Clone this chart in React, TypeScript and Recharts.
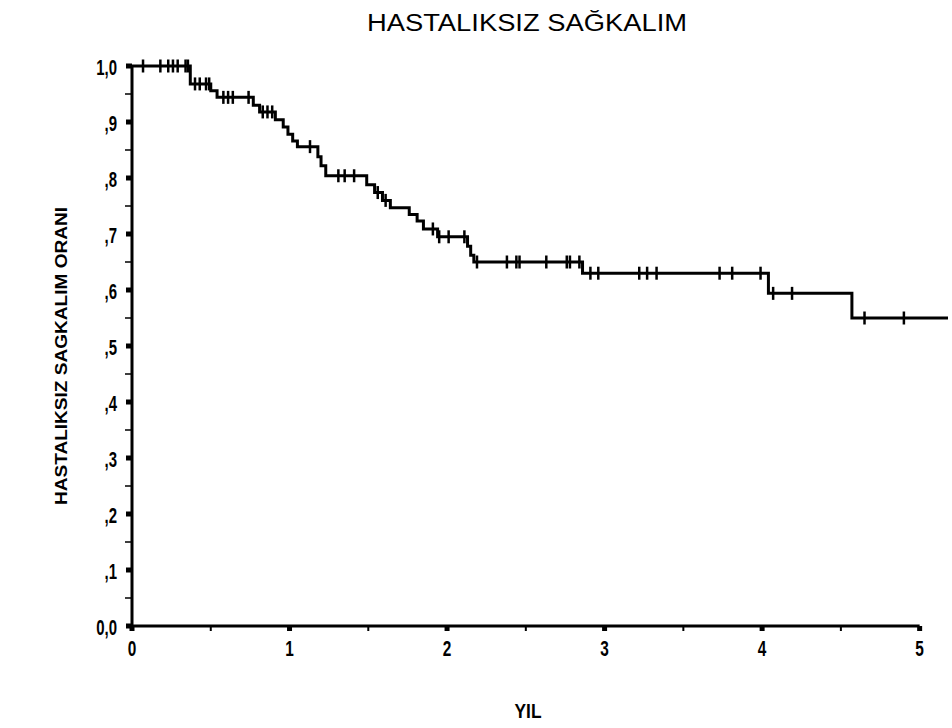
import React from "react";
import { ComposedChart, Line, Scatter, XAxis, YAxis, ReferenceLine } from "recharts";

// Kaplan-Meier step function: time (years) and survival after each step
const stepTimes = [0, 0.37, 0.5, 0.54, 0.77, 0.81, 0.91, 0.96, 0.99, 1.02, 1.05, 1.18, 1.2, 1.23, 1.49, 1.54, 1.59, 1.64, 1.76, 1.81, 1.85, 1.94, 2.13, 2.15, 2.17, 2.86, 4.04, 4.57, 5.18];
const stepSurvival = [1.0, 0.968, 0.956, 0.944, 0.93, 0.918, 0.904, 0.891, 0.878, 0.866, 0.856, 0.838, 0.822, 0.804, 0.788, 0.774, 0.76, 0.747, 0.735, 0.723, 0.709, 0.695, 0.678, 0.662, 0.65, 0.63, 0.594, 0.55, 0.55];

// Censored observations (tick marks)
const censorTimes = [0.07, 0.18, 0.23, 0.26, 0.29, 0.34, 0.355, 0.4, 0.43, 0.47, 0.49, 0.58, 0.61, 0.64, 0.74, 0.83, 0.86, 0.89, 1.13, 1.31, 1.35, 1.41, 1.56, 1.61, 1.91, 1.95, 2.01, 2.11, 2.19, 2.38, 2.44, 2.46, 2.63, 2.76, 2.78, 2.84, 2.91, 2.96, 3.22, 3.27, 3.33, 3.73, 3.81, 3.99, 4.07, 4.19, 4.65, 4.9];
const censorSurvival = [1, 1, 1, 1, 1, 1, 1, 0.968, 0.968, 0.968, 0.968, 0.944, 0.944, 0.944, 0.944, 0.918, 0.918, 0.918, 0.856, 0.804, 0.804, 0.804, 0.774, 0.76, 0.709, 0.695, 0.695, 0.695, 0.65, 0.65, 0.65, 0.65, 0.65, 0.65, 0.65, 0.65, 0.63, 0.63, 0.63, 0.63, 0.63, 0.63, 0.63, 0.63, 0.594, 0.594, 0.55, 0.55];

const xTicks = [0, 0.5, 1, 1.5, 2, 2.5, 3, 3.5, 4, 4.5, 5];
const xTickLabels: Record<string, string> = { "0": "0", "1": "1", "2": "2", "3": "3", "4": "4", "5": "5" };
const yTicks = [0, 0.05, 0.1, 0.15, 0.2, 0.25, 0.3, 0.35, 0.4, 0.45, 0.5, 0.55, 0.6, 0.65, 0.7, 0.75, 0.8, 0.85, 0.9, 0.95, 1.0];
const yTickLabels: Record<string, string> = {
  "0": "0,0", "0.1": ",1", "0.2": ",2", "0.3": ",3", "0.4": ",4", "0.5": ",5",
  "0.6": ",6", "0.7": ",7", "0.8": ",8", "0.9": ",9", "1": "1,0",
};

const title = "HASTALIKSIZ SAĞKALIM";
const yTitle = "HASTALIKSIZ SAGKALIM ORANI";
const xTitle = "YIL";

const stepData = stepTimes.map((t, i) => ({ t, s: stepSurvival[i] }));
const censorData = censorTimes.map((t, i) => ({ t, s: censorSurvival[i] }));

const FONT = "'Liberation Sans', Arial, sans-serif";

const XTick = (props: any) => {
  const { x, y, payload } = props;
  const label = xTickLabels[String(payload.value)];
  if (label === undefined) {
    return <rect x={x - 1} y={y} width={2} height={5} fill="#000" />;
  }
  return (
    <g>
      <rect x={x - 2.5} y={y} width={5} height={5} fill="#000" />
      <text
        transform={`translate(${x},${y + 30}) scale(0.7,1)`}
        textAnchor="middle"
        fontFamily={FONT}
        fontWeight="bold"
        fontSize={22}
        fill="#000"
      >
        {label}
      </text>
    </g>
  );
};

const YTick = (props: any) => {
  const { x, y, payload } = props;
  const key = String(Math.round(payload.value * 100) / 100);
  const label = yTickLabels[key];
  if (label === undefined) {
    return <rect x={x - 7} y={y - 0.75} width={7} height={1.5} fill="#000" />;
  }
  return (
    <g>
      <rect x={x - 6} y={y - 2.5} width={6} height={5} fill="#000" />
      <text
        transform={`translate(${x - 15},${y + 9}) scale(0.68,1)`}
        textAnchor="end"
        fontFamily={FONT}
        fontWeight="bold"
        fontSize={22}
        fill="#000"
      >
        {label}
      </text>
    </g>
  );
};

const CensorMark = (props: any) => {
  const { cx, cy } = props;
  return <line x1={cx} y1={cy - 6.5} x2={cx} y2={cy + 6.5} stroke="#000" strokeWidth={2.5} />;
};

export default function App() {
  return (
    <div style={{ position: "absolute", left: 0, top: 0, width: 952, height: 728, background: "#fff" }}>
      <ComposedChart
        width={952}
        height={728}
        margin={{ top: 66, right: 4, bottom: 72, left: 72 }}
      >
        <XAxis
          dataKey="t"
          type="number"
          domain={[0, 5.18]}
          ticks={xTicks}
          tick={<XTick />}
          tickLine={false}
          axisLine={false}
          tickSize={0}
          tickMargin={0}
          height={30}
          allowDataOverflow
          interval={0}
        />
        <YAxis
          type="number"
          domain={[0, 1]}
          ticks={yTicks}
          tick={<YTick />}
          tickLine={false}
          axisLine={{ stroke: "#000", strokeWidth: 3 }}
          tickSize={0}
          tickMargin={0}
          width={60}
          interval={0}
        />
        <ReferenceLine
          segment={[{ x: 0, y: 0 }, { x: 5, y: 0 }]}
          stroke="#000"
          strokeWidth={3}
          ifOverflow="visible"
        />
        <Line
          data={stepData}
          dataKey="s"
          type="stepAfter"
          stroke="#000"
          strokeWidth={3}
          dot={false}
          activeDot={false}
          isAnimationActive={false}
        />
        <Scatter
          data={censorData}
          dataKey="s"
          shape={<CensorMark />}
          isAnimationActive={false}
        />
        <text
          x={527}
          y={31}
          textAnchor="middle"
          fontFamily={FONT}
          fontSize={23}
          textLength={320}
          lengthAdjust="spacingAndGlyphs"
          fill="#000"
        >
          {title}
        </text>
        <text
          transform="translate(67,356) rotate(-90)"
          textAnchor="middle"
          fontFamily={FONT}
          fontWeight="bold"
          fontSize={17}
          textLength={298}
          lengthAdjust="spacingAndGlyphs"
          fill="#000"
        >
          {yTitle}
        </text>
        <text
          x={528}
          y={718}
          textAnchor="middle"
          fontFamily={FONT}
          fontWeight="bold"
          fontSize={20}
          textLength={27}
          lengthAdjust="spacingAndGlyphs"
          fill="#000"
        >
          {xTitle}
        </text>
      </ComposedChart>
    </div>
  );
}
